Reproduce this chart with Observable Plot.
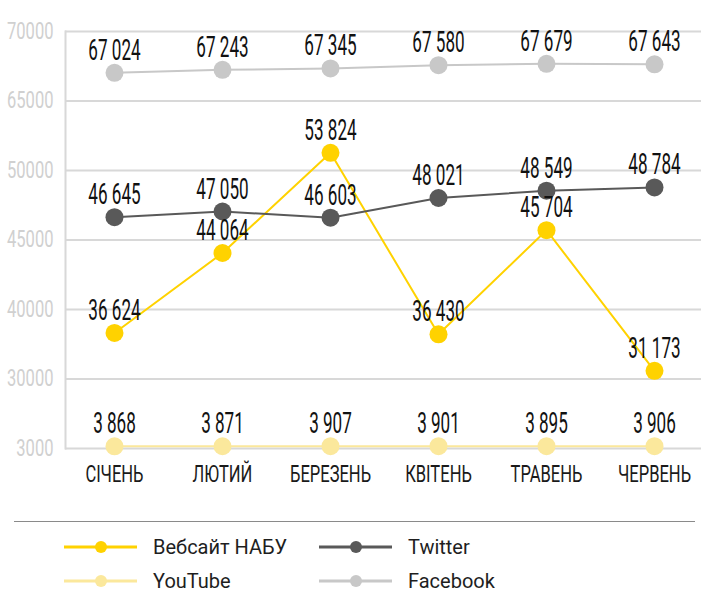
<!DOCTYPE html>
<html>
<head>
<meta charset="utf-8">
<script src="https://cdn.jsdelivr.net/npm/d3@7"></script>
<script src="https://cdn.jsdelivr.net/npm/@observablehq/plot@0.6"></script>
<style>
  html, body { margin: 0; padding: 0; background: #fff; }
  #wrap { width: 701px; height: 592px; position: relative; overflow: hidden; }
  .chart { font-family: Roboto, "Noto Sans", sans-serif; }
  g[aria-label="y-axis tick label"] text { fill: #d0d0d0; }
  g[aria-label="x-axis tick label"] text { fill: #1a1a1a; }
  #legend { position: absolute; left: 0; top: 505px; width: 701px; height: 87px; font-family: Roboto, "Noto Sans", sans-serif; }
  #sep { position: absolute; left: 14px; width: 681px; top: 16px; height: 0; border-top: 1.5px solid #8a8a8a; }
  .item { position: absolute; display: flex; align-items: center; height: 18px; font-size: 20px; line-height: 18px; color: #1e1e1e; }
  .item svg { margin-right: 16px; }
</style>
</head>
<body>
<div id="wrap">
  <div id="chart"></div>
  <div id="legend"><div id="sep"></div></div>
</div>
<script>
const months = ["СІЧЕНЬ", "ЛЮТИЙ", "БЕРЕЗЕНЬ", "КВІТЕНЬ", "ТРАВЕНЬ", "ЧЕРВЕНЬ"];
const seriesNames = ["Вебсайт НАБУ", "Twitter", "YouTube", "Facebook"];
const website = [36624, 44064, 53824, 36430, 45704, 31173];
const twitter = [46645, 47050, 46603, 48021, 48549, 48784];
const youtube = [3868, 3871, 3907, 3901, 3895, 3906];
const facebook = [67024, 67243, 67345, 67580, 67679, 67643];
const yTicks = [3000, 30000, 40000, 45000, 50000, 65000, 70000];
const seriesColors = ["#FFD200", "#595959", "#FBE89C", "#C8C8C8"];

const valuesBySeries = [website, twitter, youtube, facebook];
const rows = [];
seriesNames.forEach((s, si) => {
  valuesBySeries[si].forEach((v, i) => rows.push({series: s, month: months[i], value: v}));
});

const fmt = d3.formatLocale({decimal: ".", thousands: " ", grouping: [3], currency: ["", ""]}).format(",d");

const W = 701, H = 505, plotTop = 31, plotBottom = 448;
const yRange = yTicks.map((d, i) => plotBottom - i * (plotBottom - plotTop) / (yTicks.length - 1));

const chart = Plot.plot({
  width: W,
  height: H,
  marginLeft: 65,
  marginRight: 0,
  marginTop: plotTop,
  marginBottom: H - plotBottom,
  className: "chart",
  style: {background: "#fff", overflow: "visible"},
  x: {type: "point", domain: months, range: [113, 655], padding: 0, label: null},
  y: {type: "linear", domain: yTicks, range: yRange, label: null},
  color: {domain: seriesNames, range: seriesColors},
  marks: [
    Plot.ruleY(yTicks, {stroke: "#d8d8d8", strokeWidth: 2}),
    Plot.frame({anchor: "left", stroke: "#d8d8d8", strokeWidth: 2}),
    Plot.axisY({ticks: yTicks, tickSize: 0, tickPadding: 12, tickFormat: d3.format("d"), fontSize: 23}),
    Plot.axisX({tickSize: 0, tickPadding: 17, fontSize: 23}),
    Plot.line(rows, {x: "month", y: "value", z: "series", stroke: "series", strokeWidth: 2}),
    Plot.dot(rows, {x: "month", y: "value", fill: "series", r: 9}),
    Plot.text(rows, {x: "month", y: "value", text: d => fmt(d.value), lineAnchor: "bottom", dy: -13, fontSize: 30, fill: "#111"})
  ]
});
document.getElementById("chart").appendChild(chart);

// narrow the text horizontally (condensed look) around each text's anchor point
function condense(selector, sx) {
  chart.querySelectorAll(selector).forEach(t => {
    const xs = t.getAttribute("x");
    const xv = xs && !/[a-z%]/i.test(xs) ? parseFloat(xs) : 0;
    const x = isFinite(xv) ? xv : 0;
    const tr = t.getAttribute("transform") || "";
    t.setAttribute("transform", `${tr} translate(${x},0) scale(${sx},1) translate(${-x},0)`);
  });
}
condense('g[aria-label="y-axis tick label"] text', 0.72);
condense('g[aria-label="x-axis tick label"] text', 0.72);
condense('g[aria-label="text"] text', 0.57);

// legend
const legend = document.getElementById("legend");
const legendPos = [[64, 42], [319, 42], [64, 76], [319, 76]];
seriesNames.forEach((s, i) => {
  const item = document.createElement("div");
  item.className = "item";
  item.style.left = legendPos[i][0] + "px";
  item.style.top = (legendPos[i][1] - 9) + "px";
  const c = seriesColors[i];
  item.innerHTML = `<svg width="73" height="16"><line x1="0" x2="73" y1="8" y2="8" stroke="${c}" stroke-width="3"/><circle cx="37" cy="8" r="6" fill="${c}"/></svg><span>${s}</span>`;
  legend.appendChild(item);
});
</script>
</body>
</html>
